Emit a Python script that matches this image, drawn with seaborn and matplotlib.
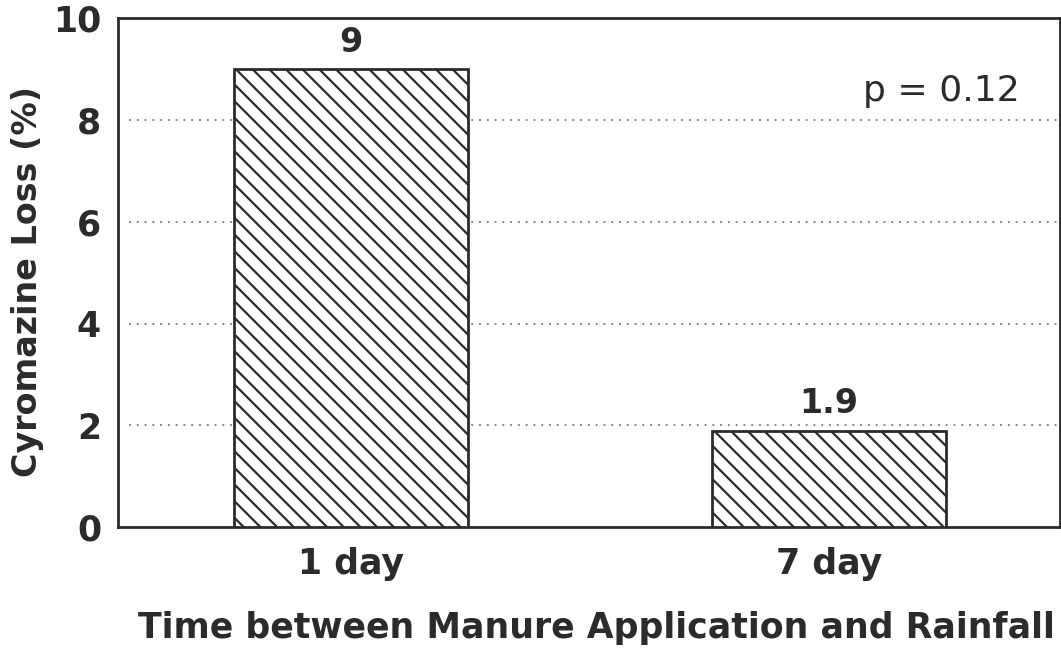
import matplotlib
matplotlib.use('Agg')
import matplotlib.pyplot as plt
import seaborn as sns
import pandas as pd

# values
categories = ['1 day', '7 day']
loss_pct = [9.0, 1.9]
bar_labels = ['9', '1.9']
y_ticks = [0, 2, 4, 6, 8, 10]

df = pd.DataFrame({'Interval': categories, 'Loss': loss_pct})

sns.set_style('white')
plt.rcParams['font.family'] = ['DejaVu Sans']
plt.rcParams['hatch.linewidth'] = 1.6
ink = '#2b2b2b'

fig = plt.figure(figsize=(10.61, 6.51), dpi=100)
ax = fig.add_axes([0.111, 0.19, 0.888, 0.782])

sns.barplot(data=df, x='Interval', y='Loss', ax=ax, color='white',
            width=0.49, edgecolor=ink, linewidth=2, zorder=3)
for p in ax.patches:
    p.set_hatch('\\\\')
    p.set_facecolor('white')

# value labels above bars
for i, (v, lab) in enumerate(zip(loss_pct, bar_labels)):
    ax.text(i, v + 0.2, lab, ha='center', va='bottom', fontsize=24,
            fontweight='bold', color=ink)

ax.text(0.957, 0.858, 'p = 0.12', transform=ax.transAxes, ha='right',
        va='center', fontsize=26, color=ink)

# dotted grid lines
for y in y_ticks[1:-1]:
    ax.axhline(y, xmin=0.012, color='#888888', linestyle=(0, (1, 3)),
               linewidth=1.4, zorder=1)

ax.set_ylim(0, 10)
ax.set_xlim(-0.487, 1.483)
ax.set_yticks(y_ticks)
ax.tick_params(axis='both', length=0, colors=ink)
ax.tick_params(axis='y', pad=12)
ax.tick_params(axis='x', pad=14)
for t in ax.get_yticklabels() + ax.get_xticklabels():
    t.set_fontsize(25)
    t.set_fontweight('bold')

ax.set_xlabel('Time between Manure Application and Rainfall', fontsize=25,
              fontweight='bold', color=ink, labelpad=20)
ax.xaxis.set_label_coords(0.508, -0.165)
ax.set_ylabel('Cyromazine Loss (%)', fontsize=24, fontweight='bold',
              color=ink)
ax.yaxis.set_label_coords(-0.078, 0.483)

for s in ax.spines.values():
    s.set_color(ink)
    s.set_linewidth(2)

fig.savefig('out.png', dpi=100)
